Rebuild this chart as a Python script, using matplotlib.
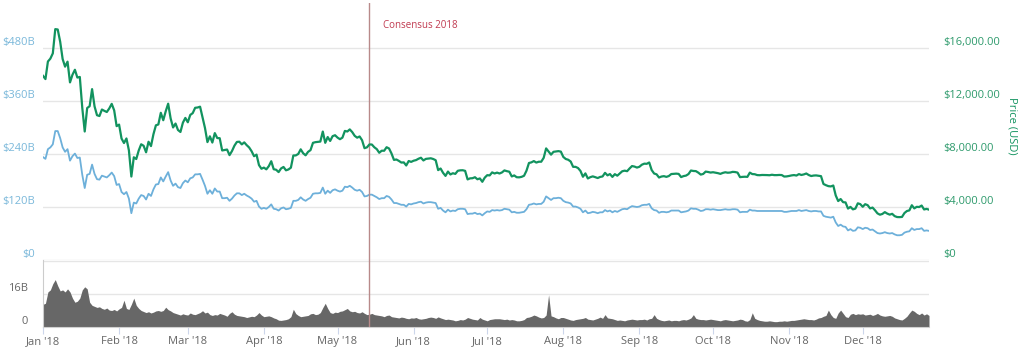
import pandas as pd
import matplotlib
matplotlib.use("Agg")
import matplotlib.pyplot as plt
import matplotlib.dates as mdates

plt.rcParams["font.family"] = ["Open Sans", "DejaVu Sans"]

# Bitcoin 2018, one value per day (Jan 1 - Dec 28)
price_usd = [
    # Jan
    13900, 13657, 14982, 15201, 15599, 17429, 17400, 16477, 15170, 14595, 14973, 13405, 13980, 14360, 13772, 13819,
    11490, 9700, 11474, 11607, 12899, 11600, 10931, 10868, 11359, 11259, 11171, 11441, 11787, 11296, 10106,
    # Feb
    10221, 9170, 8830, 9174, 8277, 6300, 7754, 7622, 8265, 8737, 8622, 8129, 8926, 8599, 9494, 10166, 10233, 11112,
    10551, 11225, 11800, 10690, 10005, 10301, 9813, 9664, 10366, 10725,
    # Mar
    10397, 10951, 11086, 11489, 11512, 11573, 10779, 9965, 8900, 9337, 8866, 9578, 9205, 9194, 8269, 8300, 8338,
    7916, 8223, 8630, 8913, 8929, 8728, 8879, 8668, 8495, 8209, 7834, 7954, 7165, 6890,
    # Apr
    6973, 6844, 7083, 7456, 6853, 6811, 6636, 6911, 7023, 6770, 6834, 6968, 7889, 7895, 8004, 8355, 8058, 7903,
    8164, 8294, 8845, 8895, 8917, 8940, 9697, 8845, 9282, 8987, 9348, 9419,
    # May
    9240, 9119, 9236, 9743, 9700, 9858, 9654, 9373, 9234, 9325, 9043, 8441, 8504, 8723, 8716, 8510, 8368, 8094,
    8250, 8247, 8513, 8418, 8041, 7557, 7587, 7481, 7356, 7368, 7135, 7472, 7406,
    # Jun
    7494, 7541, 7644, 7720, 7514, 7633, 7653, 7678, 7624, 7532, 6786, 6906, 6582, 6349, 6675, 6456, 6550, 6500,
    6734, 6769, 6776, 6729, 6083, 6162, 6174, 6249, 6094, 6157, 5903, 6218,
    # Jul
    6404, 6385, 6614, 6530, 6597, 6529, 6609, 6762, 6706, 6664, 6308, 6385, 6249, 6239, 6277, 6359, 6742, 7321,
    7371, 7467, 7354, 7419, 7418, 7711, 8424, 8182, 7951, 8166, 8193, 8219, 8180,
    # Aug
    7780, 7625, 7567, 7434, 7033, 7031, 6941, 6720, 6284, 6538, 6154, 6252, 6312, 6254, 6186, 6270, 6308, 6580,
    6388, 6488, 6272, 6480, 6365, 6534, 6698, 6743, 6705, 6910, 7091, 7053, 6977,
    # Sep
    7037, 7193, 7272, 7261, 7362, 6792, 6529, 6467, 6226, 6301, 6329, 6275, 6339, 6489, 6500, 6519, 6499, 6258,
    6334, 6371, 6487, 6754, 6720, 6710, 6596, 6447, 6496, 6673, 6644, 6601,
    # Oct
    6626, 6589, 6556, 6502, 6576, 6622, 6588, 6602, 6653, 6640, 6596, 6255, 6275, 6286, 6275, 6596, 6487, 6474,
    6410, 6400, 6419, 6418, 6410, 6398, 6435, 6407, 6408, 6420, 6412, 6300, 6311,
    # Nov
    6344, 6386, 6410, 6375, 6485, 6418, 6461, 6530, 6415, 6339, 6375, 6386, 6361, 6330, 5738, 5648, 5575, 5554,
    5623, 4871, 4451, 4602, 4365, 4347, 3880, 4009, 3822, 3879, 4278, 4217,
    # Dec
    4017, 4214, 4139, 3894, 3957, 3753, 3521, 3419, 3476, 3614, 3502, 3424, 3486, 3313, 3243, 3236, 3252, 3545,
    3697, 3745, 4134, 3896, 4014, 3999, 4111, 3815, 3858, 3800,
]

market_cap_b = [
    # Jan
    233, 229, 251, 255, 262, 292, 292, 276, 255, 245, 251, 225, 235, 241, 231, 232, 193, 163, 193, 195, 216, 195,
    183, 182, 191, 189, 187, 192, 198, 190, 170,
    # Feb
    172, 154, 149, 154, 139, 106, 130, 128, 139, 147, 145, 137, 150, 145, 160, 171, 172, 187, 178, 189, 199, 180,
    168, 173, 165, 163, 174, 180,
    # Mar
    176, 185, 187, 194, 194, 195, 182, 168, 150, 158, 150, 162, 155, 155, 140, 140, 141, 134, 139, 146, 151, 151,
    147, 150, 146, 143, 139, 132, 134, 121, 116,
    # Apr
    118, 116, 120, 126, 116, 115, 112, 117, 119, 115, 116, 118, 134, 134, 136, 142, 137, 134, 138, 141, 150, 151,
    151, 152, 164, 150, 157, 152, 158, 160,
    # May
    157, 155, 157, 166, 165, 168, 164, 159, 157, 159, 154, 144, 145, 148, 148, 145, 142, 138, 140, 140, 145, 143,
    137, 129, 129, 127, 125, 125, 121, 127, 126,
    # Jun
    128, 129, 131, 132, 128, 130, 131, 131, 130, 129, 116, 118, 112, 108, 114, 110, 112, 111, 115, 116, 116, 115,
    104, 105, 105, 107, 104, 105, 101, 106,
    # Jul
    110, 109, 113, 112, 113, 112, 113, 116, 115, 114, 108, 109, 107, 107, 108, 109, 115, 125, 126, 128, 126, 127,
    127, 132, 144, 140, 136, 140, 140, 141, 140,
    # Aug
    134, 131, 130, 128, 121, 121, 119, 116, 108, 112, 106, 107, 109, 108, 106, 108, 108, 113, 110, 112, 108, 111,
    109, 112, 115, 116, 115, 119, 122, 121, 120,
    # Sep
    121, 124, 125, 125, 127, 117, 113, 112, 107, 109, 109, 108, 109, 112, 112, 112, 112, 108, 109, 110, 112, 117,
    116, 116, 114, 111, 112, 115, 115, 114,
    # Oct
    115, 114, 113, 113, 114, 115, 114, 114, 115, 115, 114, 108, 109, 109, 109, 114, 112, 112, 111, 111, 111, 111,
    111, 111, 111, 111, 111, 111, 111, 109, 109,
    # Nov
    110, 111, 111, 111, 113, 111, 112, 113, 111, 110, 111, 111, 110, 110, 100, 98, 97, 96, 98, 85, 77, 80, 76, 75,
    67, 70, 66, 67, 74, 73,
    # Dec
    70, 73, 72, 68, 69, 65, 61, 60, 61, 63, 61, 60, 61, 58, 56, 56, 57, 62, 64, 65, 72, 68, 70, 70, 72, 66, 67, 66,
]

volume_b = [
    # Jan
    11.0, 11.5, 17.0, 18.0, 21.0, 23.0, 20.0, 17.5, 18.0, 17.0, 18.5, 17.0, 14.0, 12.0, 12.5, 14.0, 18.0, 19.5,
    18.5, 12.0, 10.5, 10.0, 9.5, 9.8, 9.0, 8.6, 9.2, 8.2, 8.0, 8.5, 7.8,
    # Feb
    8.8, 9.5, 13.0, 9.0, 8.5, 11.0, 14.0, 10.5, 9.0, 8.0, 7.5, 7.0, 7.4, 6.8, 7.2, 7.8, 8.0, 7.6, 8.0, 9.6, 8.4,
    7.8, 7.0, 6.6, 6.2, 5.8, 6.4, 6.0,
    # Mar
    5.8, 6.8, 6.2, 6.0, 6.5, 7.0, 7.9, 6.8, 7.2, 6.0, 5.6, 6.0, 5.8, 6.6, 6.2, 5.8, 5.2, 6.6, 7.4, 6.2, 5.6, 5.4,
    5.2, 5.0, 4.6, 4.9, 5.2, 5.0, 5.8, 7.0, 5.8,
    # Apr
    5.0, 5.2, 5.4, 5.0, 4.4, 4.0, 3.3, 3.2, 3.4, 3.6, 4.0, 5.0, 8.6, 6.5, 5.6, 5.0, 5.2, 5.4, 5.6, 6.4, 6.6, 6.0,
    6.2, 7.0, 9.4, 11.5, 9.0, 7.0, 6.6, 7.2,
    # May
    7.0, 7.6, 7.8, 8.4, 9.0, 7.8, 7.4, 7.6, 7.0, 6.8, 7.4, 6.6, 6.0, 6.2, 6.6, 6.0, 5.8, 5.6, 5.4, 5.0, 5.6, 5.8,
    5.0, 4.8, 4.6, 4.4, 4.8, 4.6, 4.2, 4.0, 4.4,
    # Jun
    4.3, 4.6, 4.0, 3.8, 4.0, 4.2, 4.6, 4.8, 4.6, 4.2, 4.9, 4.4, 4.0, 3.6, 3.8, 3.6, 3.4, 3.0, 3.2, 3.6, 3.4, 3.8,
    4.6, 4.2, 3.8, 3.6, 3.4, 4.6, 3.8, 3.4,
    # Jul
    3.0, 3.6, 3.8, 4.0, 4.0, 4.0, 3.8, 3.6, 3.8, 3.4, 3.6, 3.4, 3.0, 3.0, 3.2, 3.6, 4.6, 4.8, 5.2, 5.8, 5.4, 4.8,
    4.4, 4.6, 5.8, 15.6, 5.4, 5.0, 4.4, 4.0, 4.6,
    # Aug
    4.6, 4.2, 3.8, 3.4, 3.2, 3.6, 3.8, 4.0, 4.2, 4.6, 3.8, 3.6, 3.4, 3.8, 4.2, 4.8, 4.2, 6.0, 4.4, 4.2, 4.0, 3.6,
    3.2, 3.4, 3.2, 3.0, 3.4, 3.6, 3.8, 3.6, 3.4,
    # Sep
    3.6, 3.6, 3.8, 3.4, 4.0, 4.2, 6.0, 4.2, 3.6, 3.2, 3.0, 3.2, 3.4, 3.0, 3.2, 3.2, 3.0, 3.4, 3.6, 3.4, 3.8, 4.4,
    6.0, 4.2, 3.8, 3.6, 3.6, 3.4, 3.6, 3.8,
    # Oct
    3.6, 3.4, 3.2, 3.0, 3.4, 3.6, 3.4, 3.2, 3.0, 3.2, 3.4, 3.8, 3.6, 3.0, 2.8, 3.6, 6.9, 4.2, 3.6, 3.2, 3.0, 2.8,
    2.8, 3.0, 2.8, 2.6, 2.6, 2.8, 2.8, 3.0, 2.8,
    # Nov
    3.0, 3.2, 3.2, 3.4, 3.6, 3.8, 4.0, 3.8, 3.6, 3.6, 3.4, 3.8, 4.4, 4.6, 5.2, 5.6, 8.2, 6.0, 4.6, 4.2, 6.8, 8.2,
    6.6, 5.0, 4.6, 6.2, 6.6, 6.0, 6.4, 6.2,
    # Dec
    6.4, 5.8, 6.0, 6.2, 5.6, 6.0, 6.6, 5.8, 5.4, 5.2, 5.4, 5.6, 5.2, 4.4, 4.0, 3.6, 3.4, 4.2, 5.2, 6.8, 8.2, 7.6,
    6.6, 6.0, 6.8, 5.8, 6.4, 5.6,
]

cap_ticks = [0, 120, 240, 360, 480]
cap_labels = ["$0", "$120B", "$240B", "$360B", "$480B"]
price_ticks = [0, 4000, 8000, 12000, 16000]
price_labels = ["$0", "$4,000.00", "$8,000.00", "$12,000.00", "$16,000.00"]
vol_ticks = [0, 16, 32]
vol_labels = ["0", "16B", ""]

dates = pd.date_range("2018-01-01", periods=len(price_usd), freq="D")
month_starts = pd.date_range("2018-01-01", "2018-12-01", freq="MS")
consensus_day = pd.Timestamp("2018-05-14")

green = "#12935f"
blue = "#6db0da"
grid_c = "#e6e6e6"

W, H = 1024, 349
fig = plt.figure(figsize=(W / 100, H / 100), dpi=100)
x0, x1 = 43 / W, 929 / W

# price / market cap panel
ax = fig.add_axes([x0, (H - 260) / H, x1 - x0, 257 / H])
ax2 = ax.twinx()
# volume panel
axv = fig.add_axes([x0, (H - 327) / H, x1 - x0, 67 / H], sharex=ax)

ax.plot(dates, market_cap_b, color=blue, lw=1.3)
ax2.plot(dates, price_usd, color=green, lw=1.6)
axv.fill_between(dates, volume_b, 0, color="#676767", lw=0)

ax.set_xlim(dates[0], dates[-1])
ax.set_ylim(0, 582)
ax2.set_ylim(0, 19400)
axv.set_ylim(0, 32.5)

for a in (ax, ax2, axv):
    for s in a.spines.values():
        s.set_visible(False)

ax.set_axisbelow(True)
ax.set_yticks(cap_ticks)
ax.set_yticklabels(cap_labels)
ax.grid(axis="y", color=grid_c, lw=1)
ax.tick_params(axis="y", length=0, pad=5.5, labelsize=8, labelcolor="#7ab8da")
ax.tick_params(axis="x", bottom=False, labelbottom=False)

ax2.set_yticks(price_ticks)
ax2.set_yticklabels(price_labels)
ax2.tick_params(axis="y", length=0, pad=10, labelsize=8, labelcolor="#2e9a6c")

axv.set_axisbelow(True)
axv.set_yticks(vol_ticks)
axv.set_yticklabels(vol_labels)
axv.grid(axis="y", color=grid_c, lw=1)
axv.tick_params(axis="y", length=0, pad=11, labelsize=8, labelcolor="#666666")
axv.spines["left"].set_visible(True)
axv.spines["left"].set_color("#cccccc")
axv.spines["bottom"].set_visible(True)
axv.spines["bottom"].set_color("#d0d0d0")

axv.set_xticks(month_starts)
axv.xaxis.set_major_formatter(mdates.DateFormatter("%b '%y"))
axv.tick_params(axis="x", length=5, color="#ccd6eb", labelsize=8, labelcolor="#666666", pad=1.5)

for lab in ax.get_yticklabels() + ax2.get_yticklabels() + axv.get_yticklabels():
    lab.set_verticalalignment("bottom")

# Consensus 2018 marker
ax.axvline(consensus_day, color="#b88a8a", lw=1)
axv.axvline(consensus_day, color="#b88a8a", lw=1)
fig.text(383 / W, 1 - 26 / H, "Consensus 2018", color="#c0394f", fontsize=7, va="center")

fig.text(1012 / W, 1 - 126 / H, "Price (USD)", color=green, fontsize=8,
         rotation=-90, ha="center", va="center")

fig.savefig("out.png", dpi=100, facecolor="white")
